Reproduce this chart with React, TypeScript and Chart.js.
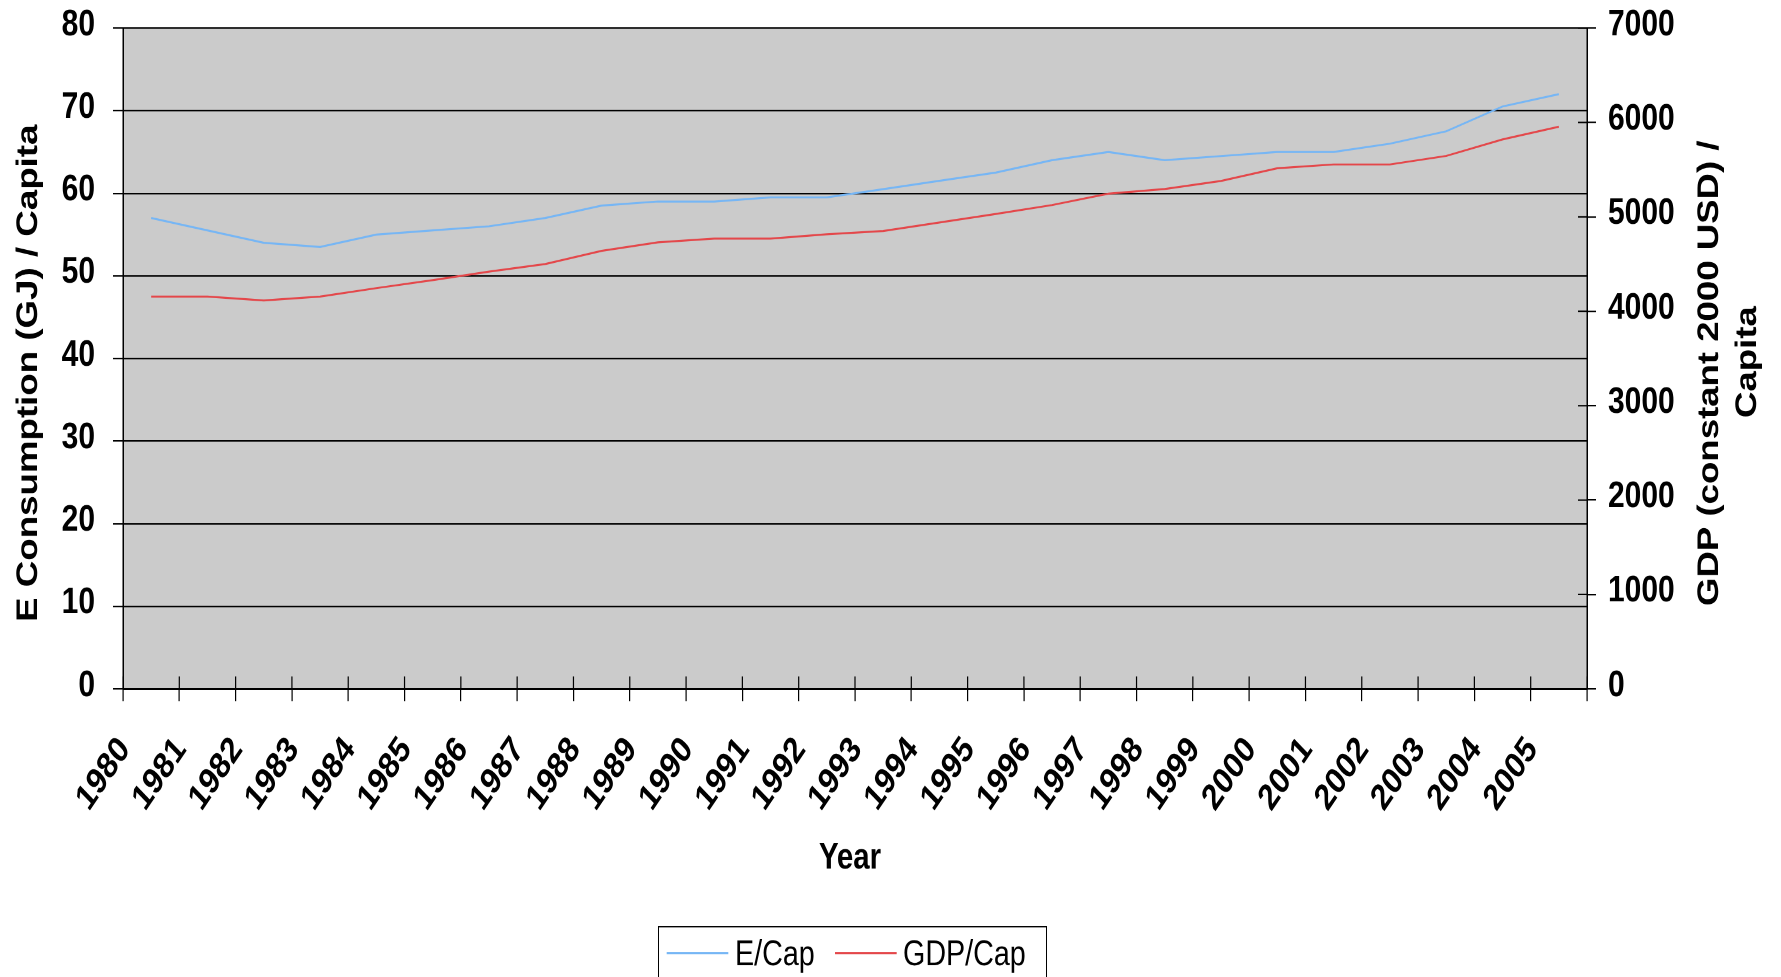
import React, { useEffect, useRef } from "react";
import { Chart, registerables } from "chart.js";

Chart.register(...registerables);

// ---- data ----
const years = [
  "1980", "1981", "1982", "1983", "1984", "1985", "1986", "1987", "1988",
  "1989", "1990", "1991", "1992", "1993", "1994", "1995", "1996", "1997",
  "1998", "1999", "2000", "2001", "2002", "2003", "2004", "2005",
];
const energyPerCapita = [
  57, 55.5, 54, 53.5, 55, 55.5, 56, 57, 58.5, 59, 59, 59.5, 59.5, 60.5,
  61.5, 62.5, 64, 65, 64, 64.5, 65, 65, 66, 67.5, 70.5, 72,
];
const gdpPerCapita = [
  4155, 4155, 4115, 4155, 4245, 4330, 4420, 4500, 4640, 4730, 4770, 4770,
  4815, 4850, 4940, 5030, 5125, 5245, 5295, 5380, 5515, 5555, 5555, 5645,
  5820, 5955,
];
const seriesNames = ["E/Cap", "GDP/Cap"];
const seriesColors = ["#76b6f5", "#e4474a"];
const leftTitle = "E Consumption (GJ) / Capita";
const rightTitle = ["GDP (constant 2000 USD) /", "Capita"];
const xTitle = "Year";

// ---- drawing geometry (the canvas is drawn 788 tall and shown 977 tall) ----
const W = 1781;
const H = 788;
const DISPLAY_H = 977;
const FONT = "'Liberation Sans', Arial, Helvetica, sans-serif";
const PLOT_LEFT = 123;
const PLOT_RIGHT = 1587;
const PLOT_TOP = 22.6;
const PLOT_BOTTOM = 555.6;

const noEdgePadding = (s: any) => {
  s.paddingTop = 0;
  s.paddingBottom = 0;
  s.paddingLeft = 0;
  s.paddingRight = 0;
};

const framePlugin = {
  id: "frame",
  beforeDraw(chart: any) {
    const { ctx, chartArea: a } = chart;
    ctx.save();
    ctx.fillStyle = "#ffffff";
    ctx.fillRect(0, 0, chart.width, chart.height);
    ctx.fillStyle = "#cbcbcb";
    ctx.fillRect(a.left, a.top, a.right - a.left, a.bottom - a.top);
    ctx.restore();
  },
  afterDraw(chart: any) {
    const { ctx, chartArea: a, scales } = chart;
    const xs = scales.x;
    const yr = scales.yGdp;
    ctx.save();
    ctx.strokeStyle = "#000";
    ctx.lineWidth = 1.2;
    // tick marks reaching into the plot on category boundaries
    const n = years.length;
    ctx.beginPath();
    for (let i = 0; i <= n; i++) {
      const px = xs.left + (i * xs.width) / n;
      ctx.moveTo(px, a.bottom);
      ctx.lineTo(px, a.bottom - 10);
    }
    // right axis tick marks crossing inward
    yr.ticks.forEach((t: any) => {
      const py = yr.getPixelForValue(t.value);
      ctx.moveTo(a.right, py);
      ctx.lineTo(a.right - 9, py);
    });
    ctx.stroke();

    ctx.fillStyle = "#000";
    ctx.textAlign = "center";
    ctx.textBaseline = "alphabetic";

    // left axis title
    ctx.save();
    ctx.font = `bold 29.6px ${FONT}`;
    ctx.translate(37, 301);
    ctx.rotate(-Math.PI / 2);
    ctx.fillText(leftTitle, 0, 0);
    ctx.restore();

    // right axis title, two lines reading upward
    ctx.font = `bold 29.5px ${FONT}`;
    const baselines = [1718, 1756];
    const centers = [301, 292];
    rightTitle.forEach((line, i) => {
      ctx.save();
      ctx.translate(baselines[i], centers[i]);
      ctx.rotate(-Math.PI / 2);
      ctx.fillText(line, 0, 0);
      ctx.restore();
    });

    // x axis title
    ctx.font = `bold 29.4px ${FONT}`;
    ctx.fillText(xTitle, 850, 700.3);

    // legend
    ctx.lineWidth = 1;
    ctx.strokeStyle = "#000";
    ctx.strokeRect(658.5, 747.5, 388, 60);
    const items = [
      { x0: 666.7, x1: 728.3, tx: 735 },
      { x0: 835, x1: 896.7, tx: 903 },
    ];
    ctx.font = `28.7px ${FONT}`;
    ctx.textAlign = "left";
    items.forEach((it, i) => {
      ctx.strokeStyle = seriesColors[i];
      ctx.lineWidth = 1.6;
      ctx.beginPath();
      ctx.moveTo(it.x0, 768.8);
      ctx.lineTo(it.x1, 768.8);
      ctx.stroke();
      ctx.fillStyle = "#000";
      ctx.fillText(seriesNames[i], it.tx, 778.3);
    });
    ctx.restore();
  },
};

export default function App() {
  const ref = useRef<HTMLCanvasElement | null>(null);

  useEffect(() => {
    const canvas = ref.current;
    if (!canvas) return;
    const tickFont = { family: FONT, size: 30, weight: "bold" as const };
    const plain = (v: any) => String(v);
    const chart = new Chart(canvas, {
      type: "line",
      data: {
        labels: years,
        datasets: [
          {
            label: seriesNames[0],
            data: energyPerCapita,
            yAxisID: "yEnergy",
            borderColor: seriesColors[0],
            backgroundColor: seriesColors[0],
            borderWidth: 1.6,
            pointRadius: 0,
            tension: 0,
          },
          {
            label: seriesNames[1],
            data: gdpPerCapita,
            yAxisID: "yGdp",
            borderColor: seriesColors[1],
            backgroundColor: seriesColors[1],
            borderWidth: 1.6,
            pointRadius: 0,
            tension: 0,
          },
        ],
      },
      options: {
        responsive: false,
        devicePixelRatio: 2,
        animation: false,
        layout: { padding: { left: 0, right: 0, top: PLOT_TOP, bottom: 0 } },
        plugins: {
          legend: { display: false },
          tooltip: { enabled: false },
        },
        scales: {
          x: {
            type: "category",
            offset: true,
            grid: {
              offset: true,
              drawOnChartArea: false,
              color: "#000",
              tickColor: "#000",
              tickLength: 10,
              lineWidth: 1.2,
            },
            border: { color: "#000", width: 1.5 },
            ticks: {
              color: "#000",
              font: { family: FONT, size: 29.5, weight: "bold" as const },
              autoSkip: false,
              minRotation: 50,
              maxRotation: 50,
              padding: 22.5,
              labelOffset: -26.5,
            },
            afterFit: (s: any) => {
              s.height = H - PLOT_BOTTOM;
              noEdgePadding(s);
            },
          },
          yEnergy: {
            type: "linear",
            position: "left",
            min: 0,
            max: 80,
            grid: {
              color: "#000",
              tickColor: "#000",
              tickLength: 10,
              lineWidth: 1.2,
            },
            border: { color: "#000", width: 1.5 },
            ticks: {
              stepSize: 10,
              color: "#000",
              font: tickFont,
              padding: 18,
              labelOffset: -2.5,
              callback: plain,
            },
            afterFit: (s: any) => {
              s.width = PLOT_LEFT;
              noEdgePadding(s);
            },
          },
          yGdp: {
            type: "linear",
            position: "right",
            min: 0,
            max: 7000,
            grid: {
              drawOnChartArea: false,
              color: "#000",
              tickColor: "#000",
              tickLength: 9,
              lineWidth: 1.2,
            },
            border: { color: "#000", width: 1.5 },
            ticks: {
              stepSize: 1000,
              color: "#000",
              font: tickFont,
              padding: 12,
              labelOffset: -2.5,
              callback: plain,
            },
            afterFit: (s: any) => {
              s.width = W - PLOT_RIGHT;
              noEdgePadding(s);
            },
          },
        },
      },
      plugins: [framePlugin],
    });
    return () => chart.destroy();
  }, []);

  return (
    <div
      style={{
        position: "fixed",
        left: 0,
        top: 0,
        width: W,
        height: DISPLAY_H,
        background: "#fff",
        overflow: "hidden",
      }}
    >
      <canvas
        ref={ref}
        width={W}
        height={H}
        style={{ width: `${W}px`, height: `${DISPLAY_H}px`, display: "block" }}
      />
    </div>
  );
}
